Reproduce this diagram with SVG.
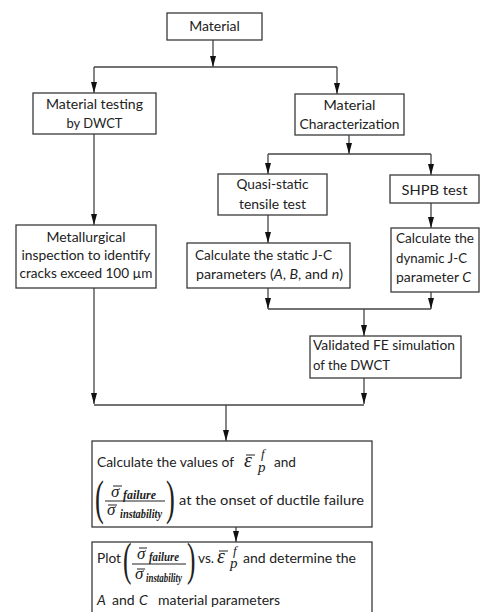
<svg xmlns="http://www.w3.org/2000/svg" width="481" height="612" viewBox="0 0 481 612">
<defs>
<marker id="ah" markerWidth="11" markerHeight="6" refX="11" refY="3" orient="auto" markerUnits="userSpaceOnUse" viewBox="0 0 11 6">
<path d="M0,0 L11,3 L0,6 Z" fill="#111"/>
</marker>
<style>
.box{fill:#fff;stroke:#3a3a3a;stroke-width:1.3}
.t{font-family:Lato,"Open Sans",sans-serif;font-size:14px;fill:#222}
.c{text-anchor:middle}
.ln{fill:none;stroke:#444;stroke-width:1.3}
.ar{fill:none;stroke:#444;stroke-width:1.3;marker-end:url(#ah)}
.m{font-family:"Liberation Serif",serif;font-style:italic;fill:#222}
.mb{font-family:"Liberation Serif",serif;font-style:italic;font-weight:bold;fill:#222;font-size:11.5px}
.par{font-family:"Liberation Serif",serif;fill:#222}
.bar{stroke:#222;stroke-width:1}
</style>
</defs>
<rect width="481" height="612" fill="#fff"/>
<g id="connectors">
<path class="ar" d="M213,40 V67"/>
<path class="ln" d="M94,67 H337"/>
<path class="ar" d="M94,67 V93"/>
<path class="ar" d="M337,67 V94"/>
<path class="ar" d="M349,135 V154"/>
<path class="ln" d="M268,154 H431"/>
<path class="ar" d="M268,154 V174"/>
<path class="ar" d="M431,154 V175"/>
<path class="ar" d="M94,134 V225"/>
<path class="ar" d="M268,215 V243"/>
<path class="ar" d="M431,203 V228"/>
<path class="ar" d="M268,288 V309"/>
<path class="ar" d="M431,292 V309"/>
<path class="ln" d="M268,309 H431"/>
<path class="ar" d="M364,309 V336"/>
<path class="ar" d="M94,288 V404"/>
<path class="ar" d="M364,378 V404"/>
<path class="ln" d="M94,405 H364"/>
<path class="ar" d="M226,405 V441"/>
<path class="ar" d="M236,527 V542"/>
</g>
<g id="material">
<rect class="box" x="167" y="13" width="95" height="27"/>
<text class="t c" x="214.5" y="31" font-size="15">Material</text>
</g>
<g id="testing">
<rect class="box" x="33" y="93" width="123" height="41"/>
<text class="t c" x="94.5" y="109" textLength="97" lengthAdjust="spacingAndGlyphs">Material testing</text>
<text class="t c" x="94.5" y="128" textLength="56" lengthAdjust="spacingAndGlyphs">by DWCT</text>
</g>
<g id="characterization">
<rect class="box" x="295" y="94" width="109" height="41"/>
<text class="t c" x="349.5" y="110" textLength="52" lengthAdjust="spacingAndGlyphs">Material</text>
<text class="t c" x="349.5" y="129" textLength="100" lengthAdjust="spacingAndGlyphs">Characterization</text>
</g>
<g id="quasistatic">
<rect class="box" x="218" y="174" width="109" height="41"/>
<text class="t c" x="272.5" y="189" textLength="72" lengthAdjust="spacingAndGlyphs">Quasi-static</text>
<text class="t c" x="272.5" y="209" textLength="67" lengthAdjust="spacingAndGlyphs">tensile test</text>
</g>
<g id="shpb">
<rect class="box" x="390" y="175" width="89" height="28"/>
<text class="t c" x="434.5" y="195" textLength="66" lengthAdjust="spacingAndGlyphs">SHPB test</text>
</g>
<g id="metallurgical">
<rect class="box" x="16" y="225" width="140" height="63"/>
<text class="t c" x="86" y="242" textLength="79" lengthAdjust="spacingAndGlyphs">Metallurgical</text>
<text class="t c" x="86" y="260" textLength="129" lengthAdjust="spacingAndGlyphs">inspection to identify</text>
<text class="t c" x="86" y="278" textLength="133" lengthAdjust="spacingAndGlyphs">cracks exceed 100 µm</text>
</g>
<g id="static-jc">
<rect class="box" x="187" y="243" width="163" height="45"/>
<text class="t" x="195" y="260" textLength="137" lengthAdjust="spacingAndGlyphs">Calculate the static J-C</text>
<text class="t" x="196" y="279" textLength="147" lengthAdjust="spacingAndGlyphs">parameters (<tspan font-style="italic">A</tspan>, <tspan font-style="italic">B</tspan>, and <tspan font-style="italic">n</tspan>)</text>
</g>
<g id="dynamic-jc">
<rect class="box" x="391" y="228" width="88" height="64"/>
<text class="t" x="396" y="243" textLength="78" lengthAdjust="spacingAndGlyphs">Calculate the</text>
<text class="t" x="396" y="263" textLength="71" lengthAdjust="spacingAndGlyphs">dynamic J-C</text>
<text class="t" x="396" y="282" textLength="75" lengthAdjust="spacingAndGlyphs">parameter <tspan font-style="italic">C</tspan></text>
</g>
<g id="validated">
<rect class="box" x="310" y="336" width="151" height="42"/>
<text class="t" x="313" y="350" textLength="142" lengthAdjust="spacingAndGlyphs">Validated FE simulation</text>
<text class="t" x="313" y="370" textLength="77" lengthAdjust="spacingAndGlyphs">of the DWCT</text>
</g>
<g id="calc-values">
<rect class="box" x="92" y="441" width="280" height="86"/>
<text class="t" x="97" y="467" textLength="137" lengthAdjust="spacingAndGlyphs">Calculate the values of</text>
<line class="bar" x1="246" y1="455" x2="255" y2="455"/>
<text class="m" x="244" y="467" font-size="20">ε</text>
<text class="m" x="261" y="458" font-size="13">f</text>
<text class="m" x="258" y="472" font-size="15">p</text>
<text class="t" x="274" y="467" textLength="22" lengthAdjust="spacingAndGlyphs">and</text>
<text class="par" x="95" y="514" font-size="48" transform="translate(95,0) scale(0.55,1) translate(-95,0)">(</text>
<line class="bar" x1="113" y1="486" x2="122" y2="486"/>
<text class="m" x="111" y="497" font-size="17">σ</text>
<text class="mb" x="123" y="499" textLength="33" lengthAdjust="spacingAndGlyphs">failure</text>
<line class="bar" x1="105" y1="501" x2="165" y2="501" stroke-width="1.2"/>
<line class="bar" x1="108" y1="505" x2="117" y2="505"/>
<text class="m" x="107" y="515" font-size="17">σ</text>
<text class="mb" x="120" y="518" textLength="42" lengthAdjust="spacingAndGlyphs">instability</text>
<text class="par" x="166" y="514" font-size="48" transform="translate(166,0) scale(0.55,1) translate(-166,0)">)</text>
<text class="t" x="179" y="505" textLength="185" lengthAdjust="spacingAndGlyphs">at the onset of ductile failure</text>
</g>
<g id="plot">
<rect class="box" x="92" y="542" width="280" height="80"/>
<text class="t" x="97" y="563" textLength="24" lengthAdjust="spacingAndGlyphs">Plot</text>
<text class="par" x="123" y="575" font-size="46" transform="translate(123,0) scale(0.55,1) translate(-123,0)">(</text>
<line class="bar" x1="139" y1="548" x2="147" y2="548"/>
<text class="m" x="137" y="559" font-size="17">σ</text>
<text class="mb" x="149" y="561" textLength="30" lengthAdjust="spacingAndGlyphs">failure</text>
<line class="bar" x1="132" y1="564" x2="186" y2="564" stroke-width="1.2"/>
<line class="bar" x1="137" y1="569" x2="145" y2="569"/>
<text class="m" x="135" y="579" font-size="17">σ</text>
<text class="mb" x="146" y="582" textLength="36" lengthAdjust="spacingAndGlyphs">instability</text>
<text class="par" x="187" y="575" font-size="46" transform="translate(187,0) scale(0.55,1) translate(-187,0)">)</text>
<text class="t" x="198" y="563" textLength="16" lengthAdjust="spacingAndGlyphs">vs.</text>
<line class="bar" x1="219" y1="551" x2="228" y2="551"/>
<text class="m" x="217" y="563" font-size="20">ε</text>
<text class="m" x="233" y="555" font-size="13">f</text>
<text class="m" x="230" y="568" font-size="15">p</text>
<text class="t" x="243" y="563" textLength="113" lengthAdjust="spacingAndGlyphs">and determine the</text>
<text class="t" x="97" y="605"><tspan font-style="italic">A</tspan><tspan x="112">and</tspan><tspan x="139" font-style="italic">C</tspan><tspan x="158">material parameters</tspan></text>
</g>
</svg>
